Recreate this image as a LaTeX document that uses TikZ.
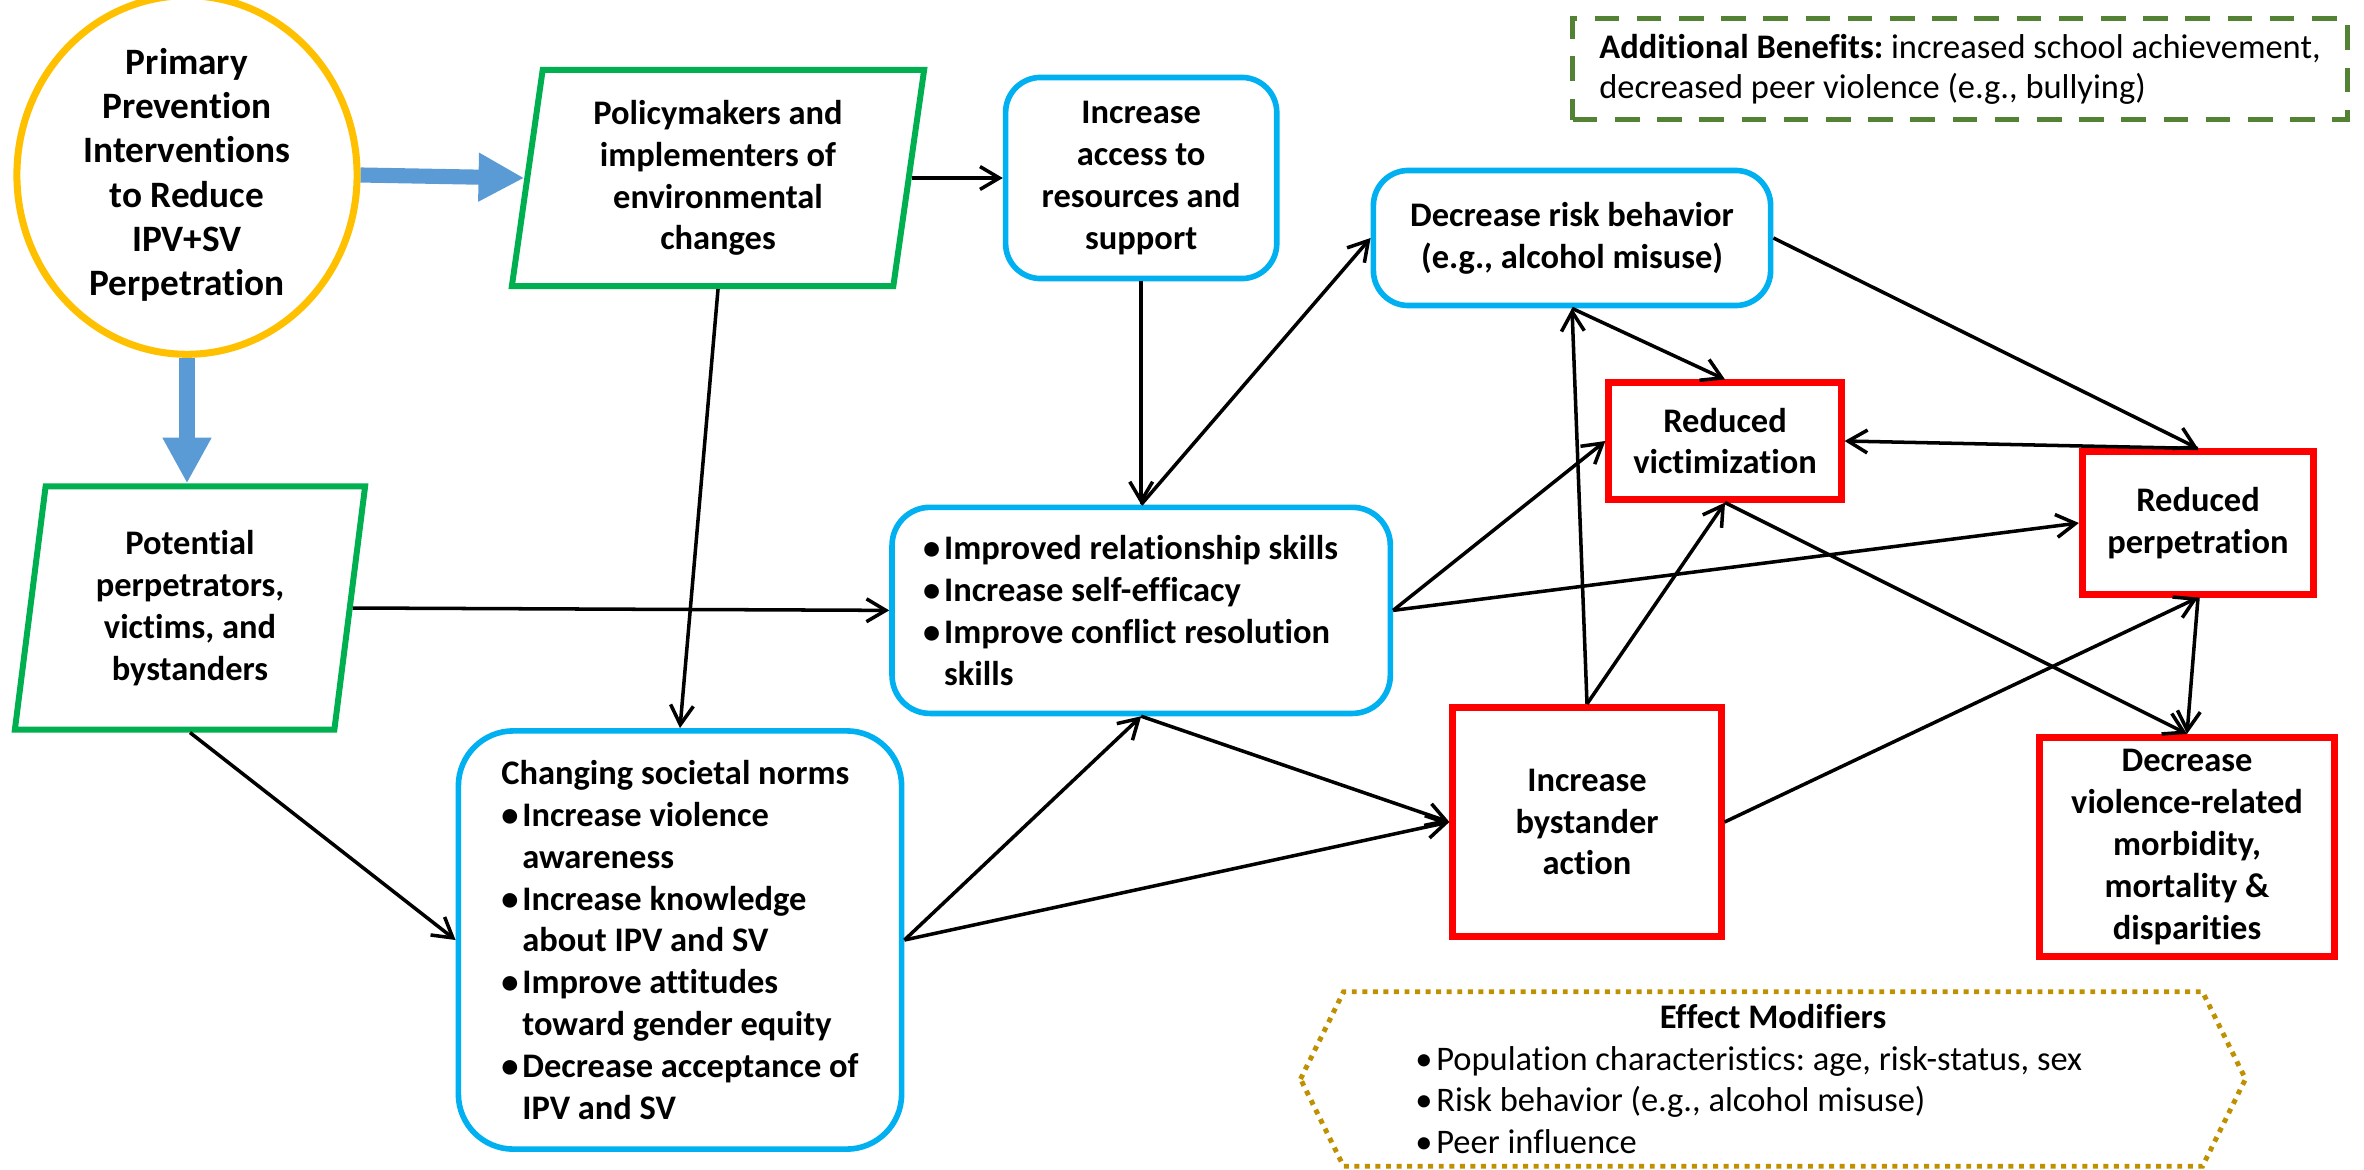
\documentclass[tikz,border=0pt]{standalone}
\usepackage{fontspec}
\setmainfont{Carlito}[Ligatures=NoCommon]
\usepackage{tikz}
\usetikzlibrary{positioning,shapes.geometric,arrows.meta}
\definecolor{ygold}{HTML}{FFC000}
\definecolor{fatblue}{HTML}{5B9BD5}
\definecolor{pgreen}{HTML}{00B050}
\definecolor{cyanb}{HTML}{00B0F0}
\definecolor{redb}{HTML}{FF0000}
\definecolor{dgreen}{HTML}{548235}
\definecolor{mustard}{HTML}{BF9000}
\newcommand{\bul}{\makebox[0.21cm][l]{\textbullet}}
\newcommand{\ind}{\hspace*{0.21cm}}
\newcommand{\ebul}{\makebox[0.21cm][l]{\textbullet}}
\frenchspacing

\begin{document}
\begin{tikzpicture}[x=0.01cm,y=0.01cm,
  every node/.style={font=\bfseries\fontsize{9.8}{11.9}\selectfont,align=center,inner sep=0pt},
  pgram/.style={trapezium,trapezium left angle=78.8,trapezium right angle=101.2,trapezium stretches body,draw=pgreen,line width=1.7pt},
  bbox/.style={rectangle,rounded corners=0.35cm,draw=cyanb,line width=1.6pt},
  rbox/.style={rectangle,draw=redb,line width=2pt},
  arr/.style={-{Straight Barb[length=5.5pt,width=6.5pt]},line width=1pt},
  fat/.style={-{Triangle[length=13pt,width=13pt]},line width=4.3pt,draw=fatblue,fill=fatblue}]
\useasboundingbox (0,0) rectangle (2364,-1170);
\node[ellipse,draw=ygold,line width=2pt,minimum width=3.4cm,minimum height=3.25cm,font=\bfseries\fontsize{10.6}{12.6}\selectfont] (prim) at (187,-175) {Primary\\Prevention\\Interventions\\to Reduce\\IPV+SV\\Perpetration};
\node[pgram,minimum width=4.12cm,minimum height=2.16cm] (pol) at (718,-178) {Policymakers and\\implementers of\\environmental\\changes};
\node[pgram,minimum width=3.5cm,minimum height=2.43cm] (pot) at (190,-608) {Potential\\perpetrators,\\victims, and\\bystanders};
\node[bbox,minimum width=2.71cm,minimum height=2.01cm,right=0.91cm of pol] (acc) {Increase\\access to\\resources and\\support};
\node[bbox,rounded corners=0.38cm,minimum width=4.98cm,minimum height=2.06cm,text width=4.36cm,below=2.23cm of acc,align=flush left] (rel) {\bul Improved relationship skills\\\bul Increase self-efficacy\\\bul Improve conflict resolution\\\ind skills};
\node[bbox,minimum width=3.97cm,minimum height=1.35cm] (risk) at (1572,-238) {Decrease risk behavior\\(e.g., alcohol misuse)};
\node[bbox,rounded corners=0.55cm,minimum width=4.43cm,minimum height=4.18cm,align=left] (soc) at (680,-940) {Changing societal norms\\\bul Increase violence\\\ind awareness\\\bul Increase knowledge\\\ind about IPV and SV\\\bul Improve attitudes\\\ind toward gender equity\\\bul Decrease acceptance of\\\ind IPV and SV};
\node[rbox,minimum width=2.32cm,minimum height=1.16cm] (vict) at (1725,-441) {Reduced\\victimization};
\node[rbox,minimum width=2.31cm,minimum height=1.42cm] (perp) at (2198,-523) {Reduced\\perpetration};
\node[rbox,minimum width=2.94cm,minimum height=2.19cm] (viol) at (2187,-847) {Decrease\\violence-related\\morbidity,\\mortality \&\\disparities};
\node[rbox,minimum width=2.68cm,minimum height=2.29cm] (byst) at (1587,-822) {Increase\\bystander\\action};
\node[draw=dgreen,line width=1.4pt,dash pattern=on 7pt off 5pt,minimum width=7.74cm,minimum height=1.01cm,align=left,font=\fontsize{9.8}{11.4}\selectfont] (ben) at (1960,-69) {\textbf{Additional Benefits:} increased school achievement,\\decreased peer violence (e.g., bullying)};
\node[minimum width=9.43cm,minimum height=1.73cm,text width=7.15cm,align=flush left,font=\fontsize{9.8}{11.9}\selectfont] (emod) at (1773,-1079) {\makebox[7.15cm]{\textbf{Effect Modifiers}}\\\ebul Population characteristics: age, risk-status, sex\\\ebul Risk behavior (e.g., alcohol misuse)\\\ebul Peer influence};
\draw[mustard,line width=1.4pt,dash pattern=on 1.4pt off 1.6pt] (emod.west) -- ([xshift=0.43cm]emod.north west) -- ([xshift=-0.43cm]emod.north east) -- (emod.east) -- ([xshift=-0.43cm]emod.south east) -- ([xshift=0.43cm]emod.south west) -- cycle;
\draw[fat] (prim.east) -- (pol.west);
\draw[fat] (prim.south) -- (prim.south |- pot.north);
\draw[arr] (pol.east) -- (acc.west);
\draw[arr] (pol.south) -- (soc.north);
\draw[arr] (pot.east) -- (rel.west);
\draw[arr] (pot.center |- pot.south) -- (soc.west);
\draw[arr] (acc.south) -- (rel.north);
\draw[arr] (rel.north) -- (risk.west);
\draw[arr] (soc.east) -- (rel.south);
\draw[arr] (soc.east) -- (byst.west);
\draw[arr] (rel.south) -- (byst.west);
\draw[arr] (rel.east) -- (vict.west);
\draw[arr] (rel.east) -- (perp.west);
\draw[arr] (byst.north) -- (risk.south);
\draw[arr] (byst.north) -- (vict.south);
\draw[arr] (risk.south) -- (vict.north);
\draw[arr] (risk.east) -- (perp.north);
\draw[arr] (perp.north) -- (vict.east);
\draw[arr] (vict.south) -- (viol.north);
\draw[arr] (byst.east) -- (perp.south);
\draw[arr] (perp.south) -- (viol.north);
\end{tikzpicture}
\end{document}
